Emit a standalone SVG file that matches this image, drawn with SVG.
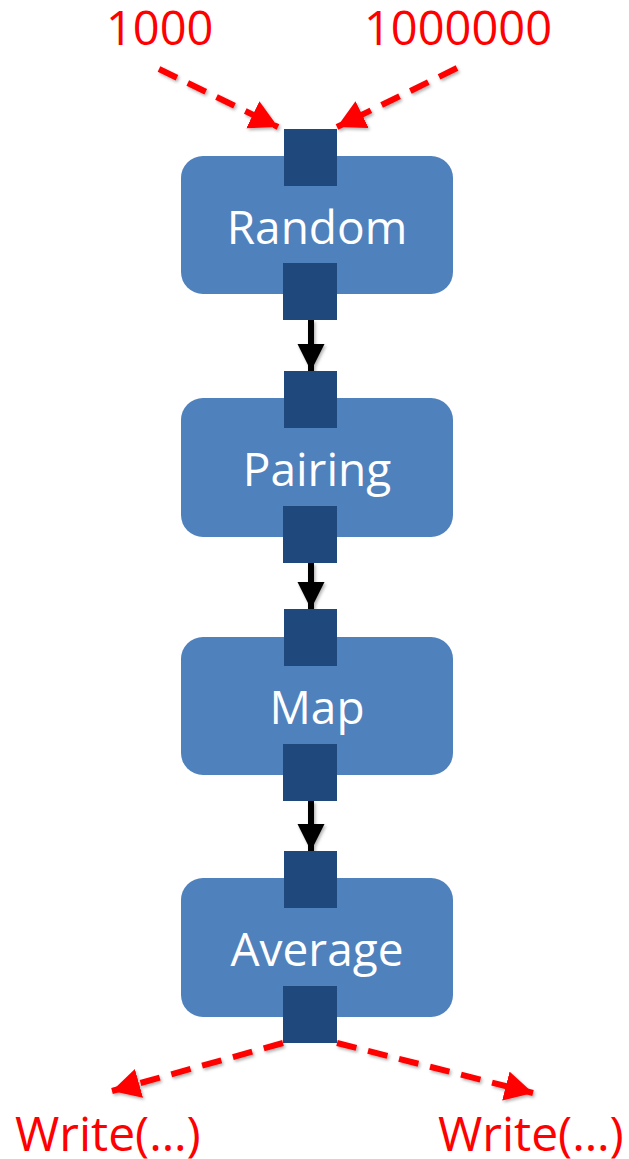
<svg xmlns="http://www.w3.org/2000/svg" width="629" height="1159" viewBox="0 0 629 1159">
  <style>
    .box { fill: #4F81BD; }
    .port { fill: #1F497D; }
    .lbl { font-family: "Open Sans", "Noto Sans", sans-serif; font-size: 46px; fill: #FFFFFF; text-anchor: middle; }
    .red { font-family: "Open Sans", "Noto Sans", sans-serif; font-size: 47px; fill: #FF0000; }
    .wr { font-size: 48px; }
    .flow { stroke: #000000; stroke-width: 6; fill: none; }
    .io { stroke: #FF0000; stroke-width: 6; fill: none; stroke-dasharray: 20 12; }
  </style>
  <defs>
    <filter id="sh" x="-20%" y="-20%" width="140%" height="140%">
      <feDropShadow dx="1.5" dy="2" stdDeviation="1.5" flood-color="#000" flood-opacity="0.3"/>
    </filter>
    <marker id="blk" markerUnits="userSpaceOnUse" markerWidth="28" markerHeight="28" refX="27" refY="13.5" orient="auto">
      <path d="M0,0 L27,13.5 L0,27 Z" fill="#000000"/>
    </marker>
    <marker id="redh" markerUnits="userSpaceOnUse" markerWidth="30" markerHeight="32" refX="28" refY="15" orient="auto">
      <path d="M0,0 L28,15 L0,30 Z" fill="#FF0000"/>
    </marker>
  </defs>

  <g id="connectors" filter="url(#sh)">
    <line class="flow" x1="311" y1="320" x2="311" y2="371" marker-end="url(#blk)"/>
    <line class="flow" x1="311" y1="563" x2="311" y2="609" marker-end="url(#blk)"/>
    <line class="flow" x1="311" y1="801" x2="311" y2="851" marker-end="url(#blk)"/>
    <line class="io" x1="159" y1="69" x2="278" y2="127" marker-end="url(#redh)"/>
    <line class="io" x1="457" y1="68" x2="337" y2="127" marker-end="url(#redh)"/>
    <line class="io" x1="283" y1="1043" x2="112" y2="1091" marker-end="url(#redh)"/>
    <line class="io" x1="337" y1="1043" x2="533" y2="1093" marker-end="url(#redh)"/>
  </g>

  <g id="node-random">
    <rect class="box" x="181" y="156" width="272" height="138" rx="22"/>
    <rect class="port" x="284" y="129" width="53" height="57"/>
    <rect class="port" x="283" y="263" width="54" height="57"/>
    <text class="lbl" x="317" y="244">Random</text>
  </g>
  <g id="node-pairing">
    <rect class="box" x="181" y="398" width="272" height="139" rx="22"/>
    <rect class="port" x="284" y="371" width="53" height="57"/>
    <rect class="port" x="283" y="506" width="54" height="57"/>
    <text class="lbl" x="317" y="486">Pairing</text>
  </g>
  <g id="node-map">
    <rect class="box" x="181" y="637" width="272" height="138" rx="22"/>
    <rect class="port" x="284" y="609" width="53" height="57"/>
    <rect class="port" x="283" y="744" width="54" height="57"/>
    <text class="lbl" x="317" y="724">Map</text>
  </g>
  <g id="node-average">
    <rect class="box" x="181" y="878" width="272" height="139" rx="22"/>
    <rect class="port" x="284" y="851" width="53" height="57"/>
    <rect class="port" x="283" y="986" width="54" height="57"/>
    <text class="lbl" x="317" y="966">Average</text>
  </g>

  <g id="labels">
    <text class="red" x="106" y="45">1000</text>
    <text class="red" x="364" y="45">1000000</text>
    <text class="red wr" x="15" y="1151">Write(…)</text>
    <text class="red wr" x="438" y="1151">Write(…)</text>
  </g>
</svg>
